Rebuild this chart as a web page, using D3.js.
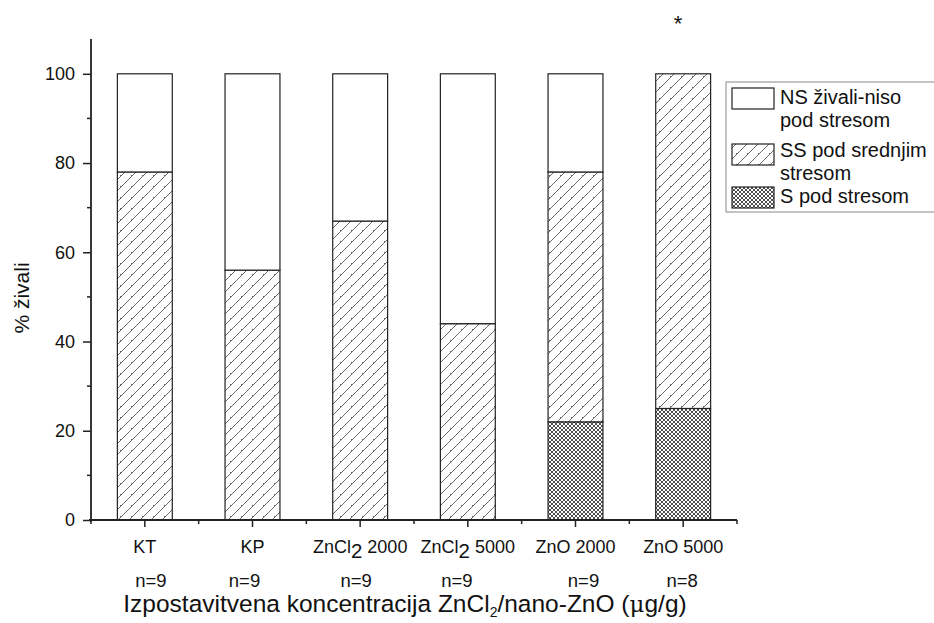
<!DOCTYPE html>
<html>
<head>
<meta charset="utf-8">
<script src="https://cdn.jsdelivr.net/npm/d3@7/dist/d3.min.js"></script>
<style>
  html, body { margin: 0; padding: 0; background: #fff; }
  svg text { font-family: "Liberation Sans", Arial, sans-serif; fill: #111; }
</style>
</head>
<body>
<svg id="chart" width="934" height="623"></svg>
<script>
// Groups on the x axis
const categories = ["KT", "KP", "ZnCl2 2000", "ZnCl2 5000", "ZnO 2000", "ZnO 5000"];
const sampleSizes = ["n=9", "n=9", "n=9", "n=9", "n=9", "n=8"];
// Percent of animals in each stress class (stacked bottom to top: S, SS, NS)
const stressS  = [0, 0, 0, 0, 22, 25];
const stressSS = [78, 56, 67, 44, 56, 75];
const stressNS = [22, 44, 33, 56, 22, 0];
const yTicks = [0, 20, 40, 60, 80, 100];
const yMinorTicks = [10, 30, 50, 70, 90];
const legendLabels = [["NS živali-niso", "pod stresom"], ["SS pod srednjim", "stresom"], ["S pod stresom"]];

// Hand-placed horizontal nudges of the sample-size row (px)
const nLabelNudge = [6, -8, -4, -11, 8, -1];

const svg = d3.select("#chart");

// Fill patterns
const defs = svg.append("defs");
const hatch = defs.append("pattern").attr("id", "hatch")
  .attr("patternUnits", "userSpaceOnUse").attr("width", 11).attr("height", 11);
hatch.append("rect").attr("width", 11).attr("height", 11).attr("fill", "#fff");
hatch.append("path").attr("d", "M-1,12 L12,-1 M-6,6 L6,-6 M5,16 L16,5")
  .attr("stroke", "#444").attr("stroke-width", 0.8);

const cross = defs.append("pattern").attr("id", "cross")
  .attr("patternUnits", "userSpaceOnUse").attr("width", 4).attr("height", 4);
cross.append("rect").attr("width", 4).attr("height", 4).attr("fill", "#fff");
cross.append("path").attr("d", "M0,0 L4,4 M4,0 L0,4")
  .attr("stroke", "#3a3a3a").attr("stroke-width", 0.9);

const x = d3.scaleBand().domain(categories).range([91, 737]).padding(0);
const y = d3.scaleLinear().domain([0, 107.8]).range([520, 39]);
const barW = x.bandwidth() * 0.51;

// Stacked bars
const series = [
  { key: "S", values: stressS, fill: "url(#cross)" },
  { key: "SS", values: stressSS, fill: "url(#hatch)" },
  { key: "NS", values: stressNS, fill: "#fff" }
];
categories.forEach((c, i) => {
  let base = 0;
  series.forEach(s => {
    const v = s.values[i];
    if (v > 0) {
      svg.append("rect")
        .attr("x", x(c) + (x.bandwidth() - barW) / 2)
        .attr("y", y(base + v))
        .attr("width", barW)
        .attr("height", y(base) - y(base + v))
        .attr("fill", s.fill)
        .attr("stroke", "#222")
        .attr("stroke-width", 1.2);
    }
    base += v;
  });
});

// Y axis
const yAxis = svg.append("g").attr("transform", "translate(91,0)")
  .call(d3.axisLeft(y).tickValues(yTicks).tickSize(8).tickPadding(8).tickFormat(d3.format("d")));
yAxis.select(".domain").attr("d", `M0,${y(107.8)}V${y(0) + 2}`);
yAxis.selectAll("line").attr("stroke", "#222").attr("stroke-width", 1.5);
yAxis.select(".domain").attr("stroke", "#222").attr("stroke-width", 1.8);
yAxis.selectAll("text").attr("font-size", 18).attr("fill", "#111")
  .attr("font-family", "Liberation Sans, Arial, sans-serif");
svg.append("g").selectAll("line").data(yMinorTicks).join("line")
  .attr("x1", 87).attr("x2", 91).attr("y1", d => y(d)).attr("y2", d => y(d))
  .attr("stroke", "#222").attr("stroke-width", 1.5);

// X axis
const xAxis = svg.append("g").attr("transform", "translate(0,520)")
  .call(d3.axisBottom(x).tickSize(7).tickFormat(""));
xAxis.select(".domain").attr("d", "M89,0H737").attr("stroke", "#222").attr("stroke-width", 1.8);
xAxis.selectAll("line").attr("stroke", "#222").attr("stroke-width", 1.5);
const bounds = categories.map(c => x(c)).concat([x(categories[categories.length - 1]) + x.bandwidth()]);
svg.append("g").selectAll("line").data(bounds).join("line")
  .attr("x1", d => d).attr("x2", d => d).attr("y1", 520).attr("y2", 524)
  .attr("stroke", "#222").attr("stroke-width", 1.5);

// Category labels with subscripts
categories.forEach((c, i) => {
  const cx = x(c) + x.bandwidth() / 2;
  const t = svg.append("text").attr("x", cx).attr("y", 553)
    .attr("text-anchor", "middle").attr("font-size", 18);
  const m = c.match(/^(ZnCl)(2)(.*)$/);
  if (m) {
    t.append("tspan").text(m[1]);
    t.append("tspan").attr("dy", 5).attr("font-size", 20.5).text(m[2]);
    t.append("tspan").attr("dy", -5).text(m[3]);
  } else {
    t.text(c);
  }
  svg.append("text").attr("x", cx + nLabelNudge[i]).attr("y", 587)
    .attr("text-anchor", "middle").attr("font-size", 18.5).text(sampleSizes[i]);
});

// Axis titles
svg.append("text").attr("transform", "translate(29,298) rotate(-90)")
  .attr("text-anchor", "middle").attr("font-size", 21).text("% živali");

const xt = svg.append("text").attr("x", 405).attr("y", 612)
  .attr("text-anchor", "middle").attr("font-size", 24.5);
xt.append("tspan").text("Izpostavitvena koncentracija ZnCl");
xt.append("tspan").attr("dy", 5).attr("font-size", 14).text("2");
xt.append("tspan").attr("dy", -5).text("/nano-ZnO (");
xt.append("tspan").attr("font-family", "DejaVu Serif, serif").attr("font-size", 23).text("μ");
xt.append("tspan").text("g/g)");

// Significance mark
svg.append("text").attr("x", 678).attr("y", 31).attr("text-anchor", "middle")
  .attr("font-size", 22).attr("font-family", "DejaVu Serif, serif").text("*");

// Legend
const lg = svg.append("g");
lg.append("rect").attr("x", 726).attr("y", 82).attr("width", 212).attr("height", 130)
  .attr("fill", "#fff").attr("stroke", "#888").attr("stroke-width", 1);
const legendFills = ["#fff", "url(#hatch)", "url(#cross)"];
const swatchY = [88, 144, 187];
const textBase = [[104, 127], [157, 180], [203]];
legendLabels.forEach((lines, i) => {
  lg.append("rect").attr("x", 732).attr("y", swatchY[i]).attr("width", 42).attr("height", 21)
    .attr("fill", legendFills[i]).attr("stroke", "#222").attr("stroke-width", 1.2);
  lines.forEach((ln, j) => {
    lg.append("text").attr("x", 780).attr("y", textBase[i][j])
      .attr("font-size", 20).text(ln);
  });
});
</script>
</body>
</html>
